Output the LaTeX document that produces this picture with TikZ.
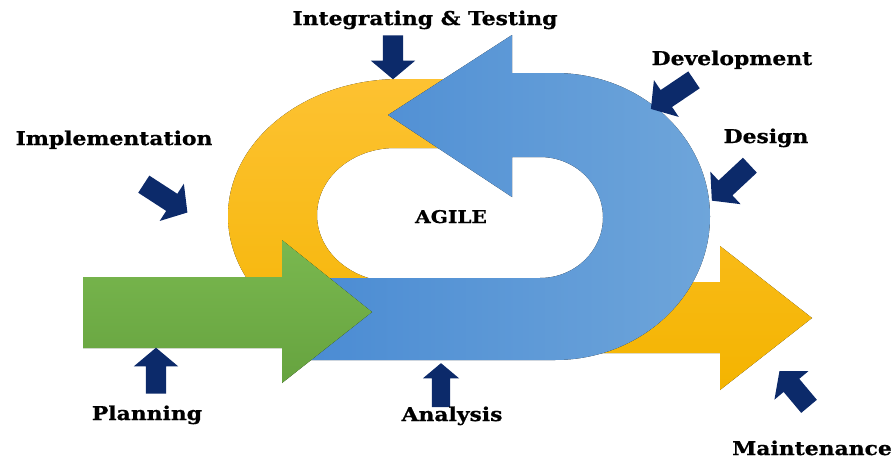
\documentclass[tikz,border=0pt]{standalone}
\usepackage{fontspec}
\newfontfamily\phasefont[FakeStretch=1.15, BoldFeatures={FakeBold=0.8}]{DejaVu Serif}
\usetikzlibrary{shapes.arrows}

\definecolor{loopyellow}{HTML}{FDC232}
\definecolor{loopyellowdk}{HTML}{F4B400}
\definecolor{loopblue}{HTML}{4A8BD3}
\definecolor{loopbluelt}{HTML}{6EA5DA}
\definecolor{startgreen}{HTML}{7AB84F}
\definecolor{startgreendk}{HTML}{66A33F}
\definecolor{pointernavy}{HTML}{0C2A6A}

\begin{document}
\begin{tikzpicture}[x=1pt, y=-1pt,
  pointer/.style={single arrow, fill=pointernavy, draw=none,
    inner xsep=0pt, inner ysep=10pt,
    single arrow head extend=12pt,
    single arrow tip angle=100, minimum height=48pt},
  phase/.style={anchor=base, inner sep=0pt,
    font=\phasefont\bfseries\fontsize{19}{21}\selectfont}]
\useasboundingbox (0,0) rectangle (894,466);

% yellow loop, ends in the exit arrow
\fill[top color=loopyellow, bottom color=loopyellowdk]
  (470,79) -- (400,79) arc[start angle=-90, end angle=-270, x radius=172, y radius=137]
  -- (720,353) -- (720,390) -- (812,318) -- (720,246) -- (720,282)
  -- (395,282) arc[start angle=90, end angle=270, x radius=78, y radius=67]
  -- (470,148) -- cycle;

% blue u-turn
\fill[left color=loopblue, right color=loopbluelt]
  (512,157) -- (540,157) arc[start angle=-90, end angle=90, x radius=63, y radius=60.5]
  -- (300,278) -- (300,360) -- (555,360)
  arc[start angle=90, end angle=-90, x radius=155, y radius=143.5]
  -- (512,73) -- (512,35) -- (388,115) -- (512,197) -- cycle;

% green entry arrow
\fill[top color=startgreen, bottom color=startgreendk]
  (83,277) -- (282,277) -- (282,240) -- (372,312) -- (282,383) -- (282,348)
  -- (83,348) -- cycle;

\node[pointer, rotate=-90, minimum height=44pt] (ptest) at (393,53) {};
\node[pointer, rotate=-146, minimum height=52pt] (pdev) at (676,92) {};
\node[pointer, rotate=-137, minimum height=52pt] (pdesign) at (734,180) {};
\node[pointer, rotate=-33, minimum height=52pt] (pimpl) at (162,196) {};
\node[pointer, rotate=90, minimum height=46pt] (pplan) at (156,375) {};
\node[pointer, rotate=90, minimum height=44pt, inner ysep=9pt, single arrow head extend=9pt] (panalysis) at (441,389) {};
\node[pointer, rotate=130, minimum height=46pt] (pmaint) at (797,392) {};

\node[phase] (ltest) at (425,25) {Integrating \& Testing};
\node[phase] (ldev) at (732,65) {Development};
\node[phase] (ldesign) at (766,143) {Design};
\node[phase] (limpl) at (114,145) {Implementation};
\node[phase, font=\phasefont\bfseries\fontsize{17.5}{19}\selectfont] (lagile) at (451,223) {AGILE};
\node[phase] (lplan) at (147,420) {Planning};
\node[phase] (lanalysis) at (452,421) {Analysis};
\node[phase] (lmaint) at (812,455) {Maintenance};
\end{tikzpicture}
\end{document}
